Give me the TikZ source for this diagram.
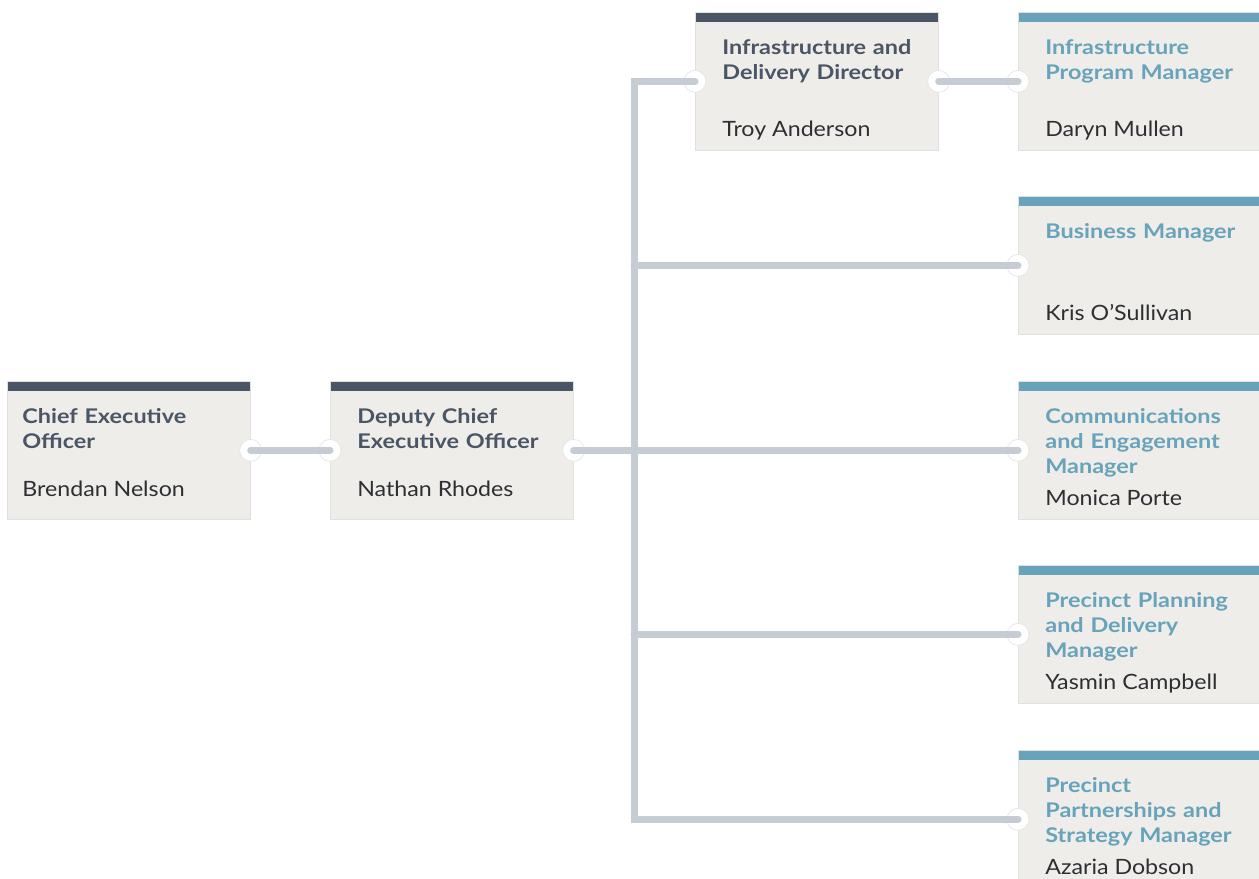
\documentclass[tikz,border=0pt]{standalone}
\usepackage{fontspec}
\setmainfont{Lato}
\newfontfamily\headfont{Lato}[FakeStretch=1.16]
\newfontfamily\namefont{Lato}[FakeStretch=1.10]
\usetikzlibrary{positioning}

\definecolor{headslate}{HTML}{4A5666}
\definecolor{headblue}{HTML}{67A3BB}
\definecolor{boxfill}{HTML}{EEEDE9}
\definecolor{linkgrey}{HTML}{C6CCD4}
\definecolor{nametext}{HTML}{2E2F33}

\tikzstyle{lead} = [rectangle, anchor=north west, minimum width=4.86cm, minimum height=2.76cm, inner sep=0pt, fill=boxfill, draw=black!12, path picture={\fill[headslate] (path picture bounding box.north west) rectangle ([yshift=-0.2cm]path picture bounding box.north east);}]
\tikzstyle{member} = [rectangle, anchor=north west, minimum width=4.86cm, minimum height=2.76cm, inner sep=0pt, fill=boxfill, draw=black!12, path picture={\fill[headblue] (path picture bounding box.north west) rectangle ([yshift=-0.2cm]path picture bounding box.north east);}]
\tikzstyle{leadtitle} = [anchor=base west, inner sep=0pt, text width=4.4cm, align=left, font=\headfont\fontsize{11.5}{14.2}\selectfont\bfseries, text=headslate]
\tikzstyle{membertitle} = [anchor=base west, inner sep=0pt, text width=4.4cm, align=left, font=\headfont\fontsize{11.5}{14.2}\selectfont\bfseries, text=headblue]
\tikzstyle{person} = [anchor=base west, inner sep=0pt, font=\namefont\fontsize{12}{14.4}\selectfont, text=nametext]
\tikzstyle{joint} = [circle, fill=white, draw=black!10, minimum size=0.44cm, inner sep=0pt]
\tikzstyle{link} = [line width=0.14cm, draw=linkgrey, line cap=round]

\begin{document}
\begin{tikzpicture}[x=0.02cm, y=-0.02cm]
        \useasboundingbox (0,0) rectangle (1259,879);

        \node (ceo) [lead] at (7,381) {};
        \node (deputy) [lead] at (330,381) {};
        \node (director) [lead] at (695,12) {};
        \node (progman) [member] at (1018,12) {};
        \node (busman) [member] at (1018,196) {};
        \node (comman) [member] at (1018,381) {};
        \node (planman) [member] at (1018,565) {};
        \node (partman) [member] at (1018,750) {};

        \node (ceo-t) [leadtitle] at ([xshift=0.3cm,yshift=-0.86cm]ceo.north west) {Chief Executive\\Officer};
        \node (ceo-n) [person] at ([xshift=0.3cm,yshift=-2.32cm]ceo.north west) {Brendan Nelson};
        \node (deputy-t) [leadtitle] at ([xshift=0.54cm,yshift=-0.86cm]deputy.north west) {Deputy Chief\\Executive Officer};
        \node (deputy-n) [person] at ([xshift=0.54cm,yshift=-2.32cm]deputy.north west) {Nathan Rhodes};
        \node (director-t) [leadtitle] at ([xshift=0.54cm,yshift=-0.86cm]director.north west) {Infrastructure and\\Delivery Director};
        \node (director-n) [person] at ([xshift=0.54cm,yshift=-2.5cm]director.north west) {Troy Anderson};
        \node (progman-t) [membertitle] at ([xshift=0.54cm,yshift=-0.86cm]progman.north west) {Infrastructure\\Program Manager};
        \node (progman-n) [person] at ([xshift=0.54cm,yshift=-2.5cm]progman.north west) {Daryn Mullen};
        \node (busman-t) [membertitle] at ([xshift=0.54cm,yshift=-0.86cm]busman.north west) {Business Manager};
        \node (busman-n) [person] at ([xshift=0.54cm,yshift=-2.5cm]busman.north west) {Kris O’Sullivan};
        \node (comman-t) [membertitle] at ([xshift=0.54cm,yshift=-0.86cm]comman.north west) {Communications\\and Engagement\\Manager};
        \node (comman-n) [person] at ([xshift=0.54cm,yshift=-2.5cm]comman.north west) {Monica Porte};
        \node (planman-t) [membertitle] at ([xshift=0.54cm,yshift=-0.86cm]planman.north west) {Precinct Planning\\and Delivery\\Manager};
        \node (planman-n) [person] at ([xshift=0.54cm,yshift=-2.5cm]planman.north west) {Yasmin Campbell};
        \node (partman-t) [membertitle] at ([xshift=0.54cm,yshift=-0.86cm]partman.north west) {Precinct\\Partnerships and\\Strategy Manager};
        \node (partman-n) [person] at ([xshift=0.54cm,yshift=-2.5cm]partman.north west) {Azaria Dobson};

        % joints on the box edges
        \node (j-ceo) [joint] at (ceo.east) {};
        \node (j-dep-in) [joint] at (deputy.west) {};
        \node (j-dep-out) [joint] at (deputy.east) {};
        \node (j-dir-in) [joint] at (director.west) {};
        \node (j-dir-out) [joint] at (director.east) {};
        \node (j-prog) [joint] at (progman.west) {};
        \node (j-bus) [joint] at (busman.west) {};
        \node (j-com) [joint] at (comman.west) {};
        \node (j-plan) [joint] at (planman.west) {};
        \node (j-part) [joint] at (partman.west) {};

        \coordinate (trunk) at (634,0);

        \draw [link] (ceo.east) -- (deputy.west);
        \draw [link] (deputy.east) -- (comman.west);
        \draw [link] (director.west) -- (trunk |- director.west) -- (trunk |- partman.west) -- (partman.west);
        \draw [link] (trunk |- busman.west) -- (busman.west);
        \draw [link] (trunk |- planman.west) -- (planman.west);
        \draw [link] (director.east) -- (progman.west);

\end{tikzpicture}
\end{document}
